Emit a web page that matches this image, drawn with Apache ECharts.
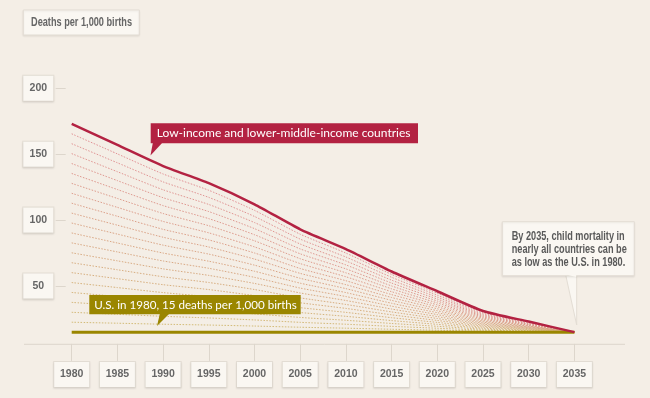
<!DOCTYPE html>
<html>
<head>
<meta charset="utf-8">
<script src="https://cdn.jsdelivr.net/npm/echarts@6/dist/echarts.min.js"></script>
<style>
html, body { margin: 0; padding: 0; background: #f4eee6; }
#chart { width: 650px; height: 398px; }
</style>
</head>
<body>
<div id="chart"></div>
<script>
// values
var years = ['1980', '1985', '1990', '1995', '2000', '2005', '2010', '2015', '2020', '2025', '2030', '2035'];
var lowIncome = [173, 157, 141, 128, 112, 93, 78, 61, 46, 31, 23, 15];
var usIn1980 = [15, 15, 15, 15, 15, 15, 15, 15, 15, 15, 15, 15];
var yTicks = [50, 100, 150, 200];
var bandSteps = 21; // dotted lines fanning between the two series

var LABEL_FONT = '"Liberation Sans", Arial, sans-serif';
var CALLOUT_FONT = 'Lato, "Open Sans", sans-serif';
var boxStyle = {
    backgroundColor: '#faf7f2',
    borderColor: '#e3ddd4',
    borderWidth: 1,
    shadowColor: 'rgba(0,0,0,0.07)',
    shadowBlur: 2,
    shadowOffsetY: 1
};

// squeeze a text to the width it has in the picture (the original face is condensed)
var measureCtx = document.createElement('canvas').getContext('2d');
function fitScale(text, font, width) {
    measureCtx.font = font;
    return width / measureCtx.measureText(text).width;
}

function mixColor(a, b, t) {
    var r = Math.round(a[0] + (b[0] - a[0]) * t);
    var g = Math.round(a[1] + (b[1] - a[1]) * t);
    var bl = Math.round(a[2] + (b[2] - a[2]) * t);
    return 'rgb(' + r + ',' + g + ',' + bl + ')';
}

var series = [];
var pink = [224, 138, 146], tan = [208, 186, 112];
for (var k = bandSteps - 1; k >= 1; k--) {
    var f = k / bandSteps;
    var d = [];
    for (var i = 0; i < years.length; i++) {
        d.push(usIn1980[i] + (lowIncome[i] - usIn1980[i]) * f);
    }
    series.push({
        type: 'line', data: d, symbol: 'none', smooth: 0.2, silent: true, z: 1,
        lineStyle: { width: 1, type: [1.5, 1.5], color: mixColor(tan, pink, f), opacity: 0.95 }
    });
}
series.push({
    name: 'U.S. in 1980', type: 'line', data: usIn1980, symbol: 'none', z: 3,
    lineStyle: { width: 3, color: '#9a8600' }
});
series.push({
    name: 'Low-income', type: 'line', data: lowIncome, symbol: 'none', smooth: 0.2, z: 4,
    lineStyle: { width: 2.5, color: '#b32242' }
});

var titleFont = 'bold 12px ' + LABEL_FONT;
var titleText = 'Deaths per 1,000 births';
var titleScale = fitScale(titleText, titleFont, 101);
var noteFont = 'bold 12px ' + LABEL_FONT;
var noteLines = ['By 2035, child mortality in', 'nearly all countries can be', 'as low as the U.S. in 1980.'];
var noteScale = fitScale(noteLines[0], noteFont, 113);

var chart = echarts.init(document.getElementById('chart'));
var option = {
    backgroundColor: '#f4eee6',
    animation: false,
    grid: { left: 71.7, right: 75.6, top: 88.3, bottom: 46.1 },
    xAxis: {
        type: 'category',
        data: years,
        boundaryGap: false,
        offset: -8,
        axisLine: { show: false },
        axisTick: { show: true, length: 17, lineStyle: { color: '#ddd6cc' } },
        axisLabel: Object.assign({
            margin: 18,
            fontFamily: LABEL_FONT, fontSize: 10.5, fontWeight: 'bold', color: '#666',
            width: 35, align: 'center', lineHeight: 13, padding: [6, 0, 6, 0]
        }, boxStyle)
    },
    yAxis: {
        type: 'value',
        min: 0, max: 200, interval: 50,
        offset: 6,
        splitLine: { show: false },
        axisLine: { show: false },
        axisTick: { show: true, length: 10, customValues: yTicks, lineStyle: { color: '#ddd6cc' } },
        axisLabel: Object.assign({
            margin: 27.4, customValues: yTicks,
            fontFamily: LABEL_FONT, fontSize: 10.5, fontWeight: 'bold', color: '#666',
            width: 30, align: 'center', lineHeight: 13, padding: [6, 0, 6, 0]
        }, boxStyle)
    },
    series: series,
    graphic: [
        { type: 'line', shape: { x1: 24, y1: 344.3, x2: 625, y2: 344.3 }, style: { stroke: '#ddd6cc', lineWidth: 1 }, z: 0 },
        // axis title box
        { type: 'rect', shape: { x: 23.3, y: 10, width: 116, height: 25 },
          style: { fill: '#faf7f2', stroke: '#e3ddd4', lineWidth: 1, shadowColor: 'rgba(0,0,0,0.07)', shadowBlur: 2, shadowOffsetY: 1 } },
        { type: 'text', x: 31, y: 22.5, scaleX: titleScale,
          style: { text: titleText, fill: '#666', font: titleFont, verticalAlign: 'middle' } },
        // low-income callout
        { type: 'polygon', shape: { points: [[153, 142], [163, 142], [150.5, 155.5]] }, style: { fill: '#b32242' }, z: 10 },
        { type: 'rect', shape: { x: 150.7, y: 123.3, width: 267.3, height: 20 }, style: { fill: '#b32242' }, z: 10 },
        { type: 'text', x: 156.7, y: 133.6, z: 11,
          style: { text: 'Low-income and lower-middle-income countries', fill: '#fff', font: '12px ' + CALLOUT_FONT, verticalAlign: 'middle' } },
        // US callout
        { type: 'polygon', shape: { points: [[160, 313], [170, 313], [157, 326]] }, style: { fill: '#9a8600' }, z: 10 },
        { type: 'rect', shape: { x: 89.3, y: 295, width: 211.4, height: 19.3 }, style: { fill: '#9a8600' }, z: 10 },
        { type: 'text', x: 94.3, y: 305, z: 11,
          style: { text: 'U.S. in 1980, 15 deaths per 1,000 births', fill: '#fff', font: '11.6px ' + CALLOUT_FONT, verticalAlign: 'middle' } },
        // 2035 note
        { type: 'polygon', shape: { points: [[565.7, 275], [576.7, 275], [576.7, 325]] },
          style: { fill: '#faf7f2', stroke: '#e3ddd4', lineWidth: 1 }, z: 10 },
        { type: 'rect', shape: { x: 502.3, y: 221.7, width: 132, height: 54 },
          style: { fill: '#faf7f2', stroke: '#e3ddd4', lineWidth: 1, shadowColor: 'rgba(0,0,0,0.07)', shadowBlur: 2, shadowOffsetY: 1 }, z: 10 },
        { type: 'polygon', shape: { points: [[566.2, 274.5], [576.2, 274.5], [576.2, 277]] }, style: { fill: '#faf7f2' }, z: 11 },
        { type: 'text', x: 511.7, y: 230, z: 11, scaleX: noteScale,
          style: { text: noteLines.join('\n'), fill: '#5a5a5a', font: noteFont, lineHeight: 13 } }
    ]
};
chart.setOption(option);
</script>
</body>
</html>
